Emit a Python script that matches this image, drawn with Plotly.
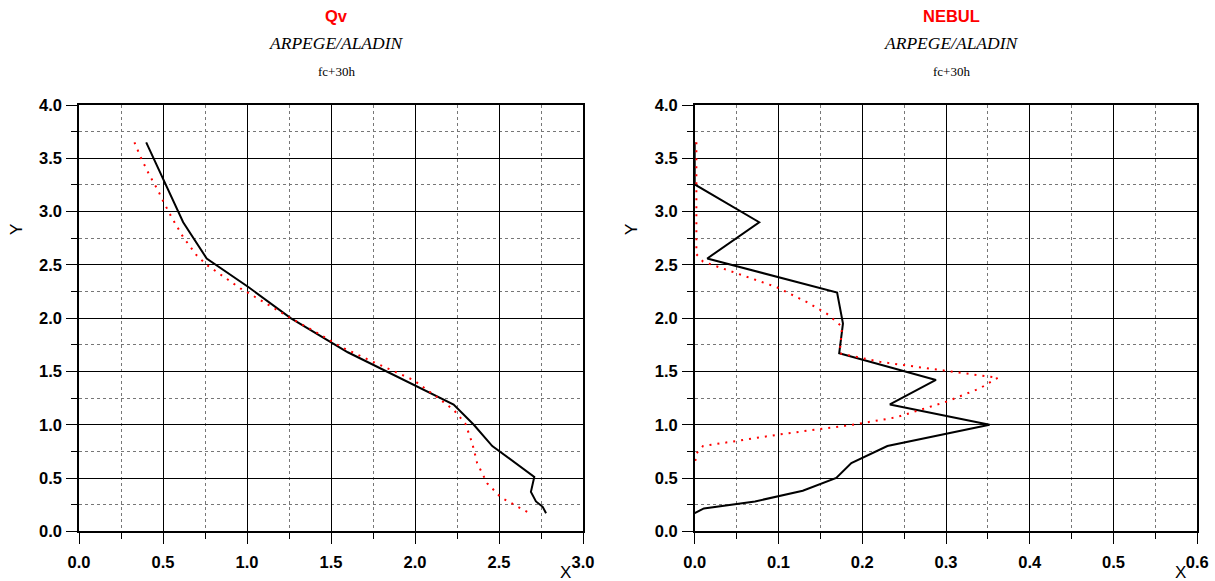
import plotly.graph_objects as go

# ---- data ----
qv_black_x = [0.40, 0.62, 0.76, 1.01, 1.26, 1.60, 2.23, 2.35, 2.46, 2.60, 2.71, 2.69, 2.72, 2.76, 2.78]
qv_black_y = [3.65, 2.90, 2.56, 2.29, 2.00, 1.68, 1.19, 1.00, 0.80, 0.64, 0.51, 0.37, 0.28, 0.23, 0.17]

qv_red_x = [0.33, 0.37, 0.42, 0.47, 0.50, 0.55, 0.62, 0.70, 0.76, 0.84, 0.96, 1.08, 1.26, 1.42,
            1.56, 1.75, 1.99, 2.13, 2.23, 2.30, 2.34, 2.37, 2.43, 2.51, 2.59, 2.67]
qv_red_y = [3.65, 3.50, 3.34, 3.20, 3.10, 2.95, 2.76, 2.59, 2.50, 2.41, 2.28, 2.17, 2.00, 1.86,
            1.73, 1.59, 1.42, 1.26, 1.14, 1.01, 0.83, 0.64, 0.45, 0.32, 0.25, 0.18]

nebul_black_x = [0.0, 0.0, 0.077, 0.015, 0.170, 0.177, 0.1725, 0.288, 0.233, 0.352, 0.23, 0.187,
                 0.169, 0.129, 0.072, 0.011, 0.0]
nebul_black_y = [3.65, 3.255, 2.90, 2.56, 2.24, 1.95, 1.67, 1.42, 1.19, 1.00, 0.80, 0.64,
                 0.50, 0.38, 0.28, 0.215, 0.17]

nebul_red_x = [0.002, 0.002, 0.002, 0.010, 0.034, 0.062, 0.098, 0.134, 0.158, 0.176, 0.173, 0.221,
               0.30, 0.362, 0.34, 0.30, 0.241, 0.189, 0.102, 0.010, 0.002, 0.0]
nebul_red_y = [3.65, 3.0, 2.60, 2.53, 2.465, 2.39, 2.29, 2.15, 2.04, 1.92, 1.67, 1.59,
               1.505, 1.44, 1.34, 1.215, 1.07, 1.00, 0.91, 0.80, 0.73, 0.62]

# tick values / labels
y_ticks = [0.0, 0.5, 1.0, 1.5, 2.0, 2.5, 3.0, 3.5, 4.0]
y_labels = ["0.0", "0.5", "1.0", "1.5", "2.0", "2.5", "3.0", "3.5", "4.0"]
qv_x_ticks = [0.0, 0.5, 1.0, 1.5, 2.0, 2.5, 3.0]
qv_x_labels = ["0.0", "0.5", "1.0", "1.5", "2.0", "2.5", "3.0"]
nebul_x_ticks = [0.0, 0.1, 0.2, 0.3, 0.4, 0.5, 0.6]
nebul_x_labels = ["0.0", "0.1", "0.2", "0.3", "0.4", "0.5", "0.6"]

titles = ["Qv", "NEBUL"]
subtitle = "ARPEGE/ALADIN"
subsub = "fc+30h"

W, H = 1215, 581
fig = go.Figure()

black = dict(color="black", width=2)
red = dict(color="#ff0000", width=2, dash="2px,6px")

fig.add_trace(go.Scatter(x=qv_black_x, y=qv_black_y, mode="lines", line=black, xaxis="x", yaxis="y", showlegend=False))
fig.add_trace(go.Scatter(x=qv_red_x, y=qv_red_y, mode="lines", line=red, xaxis="x", yaxis="y", showlegend=False))
fig.add_trace(go.Scatter(x=nebul_black_x, y=nebul_black_y, mode="lines", line=black, xaxis="x2", yaxis="y2", showlegend=False))
fig.add_trace(go.Scatter(x=nebul_red_x, y=nebul_red_y, mode="lines", line=red, xaxis="x2", yaxis="y2", showlegend=False))

tickfont = dict(family="Liberation Sans, Arial, sans-serif", size=16.5, color="black", weight=700)

def axis(rng, tv, tt, mdtick, dom, anchor, standoff):
    return dict(
        range=rng, tickmode="array", tickvals=tv, ticktext=tt,
        domain=dom, anchor=anchor, automargin=False,
        showgrid=True, gridcolor="black", gridwidth=1,
        showline=True, linecolor="black", linewidth=1.5, mirror=True,
        ticks="outside", ticklen=11, tickwidth=1, tickcolor="black",
        tickfont=tickfont, ticklabelstandoff=standoff, zeroline=False,
        minor=dict(dtick=mdtick, tick0=0, tickmode="linear", showgrid=True, gridcolor="#777",
                   griddash="dot", gridwidth=1, ticks="outside", ticklen=6,
                   tickcolor="black", tickwidth=1),
    )

ydom = [1 - 531.3 / H, 1 - 105 / H]
x1dom = [79 / W, 583 / W]
x2dom = [694.7 / W, 1197.3 / W]

fig.update_layout(
    width=W, height=H,
    margin=dict(l=0, r=0, t=0, b=0, autoexpand=False),
    paper_bgcolor="white", plot_bgcolor="white",
    xaxis=axis([0, 3.0], qv_x_ticks, qv_x_labels, 0.25, x1dom, "y", 4),
    yaxis=axis([0, 4.0], y_ticks, y_labels, 0.25, ydom, "x", 1),
    xaxis2=axis([0, 0.6], nebul_x_ticks, nebul_x_labels, 0.05, x2dom, "y2", 4),
    yaxis2=axis([0, 4.0], y_ticks, y_labels, 0.25, ydom, "x2", 1),
)

ann = []
for i, (dom, t) in enumerate([(x1dom, titles[0]), (x2dom, titles[1])]):
    cx = (dom[0] + dom[1]) / 2 + 5.5 / W
    ann.append(dict(text="<b>%s</b>" % t, x=cx, y=1 - 16 / H, xref="paper", yref="paper",
                    showarrow=False, xanchor="center", yanchor="middle",
                    font=dict(family="Liberation Sans, Arial", size=16.5, color="#ff0000")))
    ann.append(dict(text="<i>%s</i>" % subtitle, x=cx, y=1 - 43 / H, xref="paper", yref="paper",
                    showarrow=False, xanchor="center", yanchor="middle",
                    font=dict(family="Liberation Serif, Times New Roman, serif", size=17.5, color="black")))
    ann.append(dict(text=subsub, x=cx, y=1 - 71 / H, xref="paper", yref="paper",
                    showarrow=False, xanchor="center", yanchor="middle",
                    font=dict(family="Liberation Serif, Times New Roman, serif", size=13, color="black")))

for xp in (17, 632):
    ann.append(dict(text="Y", x=xp / W, y=1 - 230 / H, xref="paper", yref="paper", textangle=-90,
                    showarrow=False, xanchor="center", yanchor="middle",
                    font=dict(family="Liberation Sans, Arial", size=17, color="black")))
for xp in (565, 1180):
    ann.append(dict(text="X", x=xp / W, y=1 - 572 / H, xref="paper", yref="paper",
                    showarrow=False, xanchor="center", yanchor="middle",
                    font=dict(family="Liberation Sans, Arial", size=17, color="black")))

fig.update_layout(annotations=ann)
fig.write_html("out.html", config={"displayModeBar": False},
               post_script="document.body.style.margin='0';document.body.style.overflow='hidden';")
